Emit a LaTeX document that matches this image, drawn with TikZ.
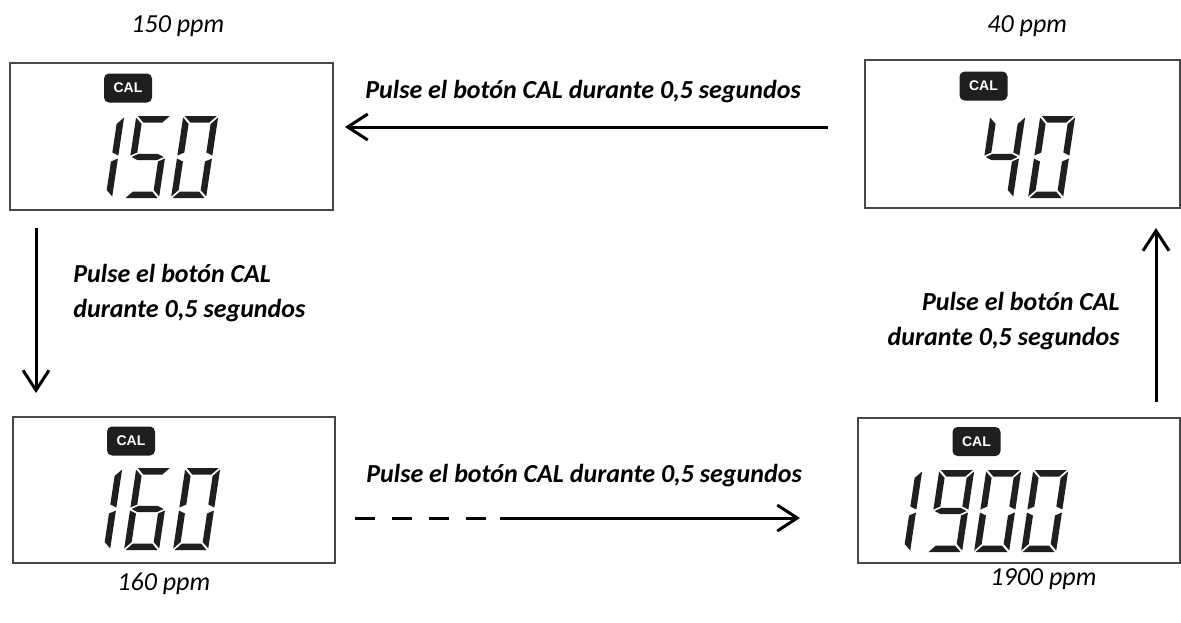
\documentclass[tikz,border=0pt]{standalone}
\usepackage{fontspec}
\setmainfont{Carlito}
\newfontfamily\calfont{Liberation Sans}
\usetikzlibrary{arrows.meta}
\newcommand{\lcddigit}[3]{%
  \begin{scope}[shift={(#1,#2)}, yscale=-1, xslant=-0.15]
  \foreach \s in {#3}{%
    \ifcase\s\or
      \fill[lcd] (1.5,82) -- (33.5,82) -- (27,75.5) -- (8,75.5) -- cycle;\or
      \fill[lcd] (35,80.5) -- (28.5,74) -- (28.5,45.5) -- (35,42.5) -- cycle;\or
      \fill[lcd] (35,1.5) -- (28.5,8) -- (28.5,36.5) -- (35,39.5) -- cycle;\or
      \fill[lcd] (1.5,0) -- (33.5,0) -- (27,6.5) -- (8,6.5) -- cycle;\or
      \fill[lcd] (0,1.5) -- (6.5,8) -- (6.5,36.5) -- (0,39.5) -- cycle;\or
      \fill[lcd] (0,80.5) -- (6.5,74) -- (6.5,45.5) -- (0,42.5) -- cycle;\or
      \fill[lcd] (1.5,41) -- (8,44.2) -- (27,44.2) -- (33.5,41) -- (27,37.8) -- (8,37.8) -- cycle;
    \fi}
  \end{scope}}
\begin{document}
\begin{tikzpicture}[x=0.5pt,y=-0.5pt,
  lcd/.style={fill=black!88},
  lcdbox/.style={draw=black!72, line width=1pt, fill=white, inner sep=0},
  calbadge/.style={fill=black!88, rounded corners=2.5pt, text=white, inner sep=0,
    font=\calfont\bfseries\fontsize{7}{7}\selectfont, minimum width=24pt, minimum height=14.5pt},
  lbl/.style={font=\fontsize{13}{17.5}\selectfont\bfseries\itshape, inner sep=0},
  ppm/.style={font=\fontsize{13}{16}\selectfont\itshape, inner sep=0, anchor=base west},
  arr/.style={line width=1.5pt, -{Straight Barb[length=10pt,width=13pt,line width=1.5pt]}},
  dsh/.style={line width=1.5pt, dash pattern=on 10pt off 8.5pt}]
\useasboundingbox (0,0) rectangle (1181,622);
\fill[white] (0,0) rectangle (1181,622);

% boxes
\node[lcdbox, minimum width=161.5pt, minimum height=73.5pt] (b150) at (171.5,136.5) {};
\node[lcdbox, minimum width=157.5pt, minimum height=74pt] (b40) at (1022.5,134) {};
\node[lcdbox, minimum width=161pt, minimum height=73pt] (b160) at (174,490) {};
\node[lcdbox, minimum width=161pt, minimum height=72.5pt] (b1900) at (1019,490.5) {};

% CAL badges
\node[calbadge] (c150) at (128,88) {CAL};
\node[calbadge] (c40) at (983.5,86) {CAL};
\node[calbadge] (c160) at (131,441) {CAL};
\node[calbadge] (c1900) at (976.5,441.5) {CAL};

% digits
\lcddigit{77}{198}{2,3}
\lcddigit{124}{198}{1,6,7,3,4}
\lcddigit{171}{198}{1,2,3,4,5,6}

\lcddigit{978}{198}{6,7,2,3}
\lcddigit{1028}{198}{1,2,3,4,5,6}

\lcddigit{75}{550}{2,3}
\lcddigit{124}{550}{1,6,5,4,3,7}
\lcddigit{173}{550}{1,2,3,4,5,6}

\lcddigit{875}{552}{2,3}
\lcddigit{927}{552}{1,2,3,4,6,7}
\lcddigit{974}{552}{1,2,3,4,5,6}
\lcddigit{1021}{552}{1,2,3,4,5,6}

% ppm labels
\node[ppm] (p150) at (131,32) {150 ppm};
\node[ppm] (p40) at (987,32) {40 ppm};
\node[ppm] (p160) at (117,590) {160 ppm};
\node[ppm] (p1900) at (990,585) {1900 ppm};

% instruction texts
\node[lbl, anchor=base west] (ttop) at (365,98) {Pulse el botón CAL durante 0,5 segundos};
\node[lbl, anchor=base west] (tbot) at (366,482) {Pulse el botón CAL durante 0,5 segundos};
\node[lbl, anchor=west, align=left] (tleft) at (73,293) {Pulse el botón CAL\\durante 0,5 segundos};
\node[lbl, anchor=east, align=right] (tright) at (1120,321) {Pulse el botón CAL\\durante 0,5 segundos};

% connectors
\coordinate (a1s) at (828,127);
\coordinate (a1e) at (345,127);
\draw[arr] (a1s) -- (a1e);

\coordinate (a2s) at (36,228);
\coordinate (a2e) at (36,393);
\draw[arr] (a2s) -- (a2e);

\coordinate (a3s) at (355,518);
\coordinate (a3m) at (490,518);
\coordinate (a3n) at (500,518);
\coordinate (a3e) at (800,518);
\draw[dsh] (a3s) -- (a3m);
\draw[arr] (a3n) -- (a3e);

\coordinate (a4s) at (1156,402);
\coordinate (a4e) at (1156,228);
\draw[arr] (a4s) -- (a4e);
\end{tikzpicture}
\end{document}
